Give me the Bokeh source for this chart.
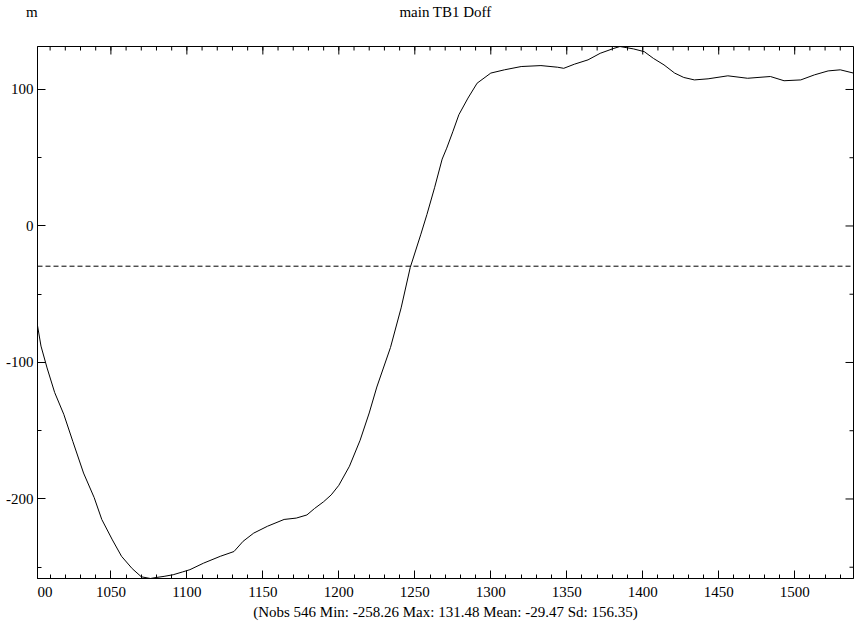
import math
from bokeh.plotting import figure
from bokeh.models import (Range1d, LinearAxis, FixedTicker, Span, PrintfTickFormatter)
from bokeh.embed import file_html
from bokeh.resources import INLINE

# ---- data ----
x_vals = [1001.7, 1004, 1008, 1013, 1019, 1025, 1032, 1039, 1044, 1051, 1057, 1064,
          1070, 1076, 1080, 1085, 1091, 1097, 1102, 1111, 1122, 1131, 1137, 1144,
          1153, 1164, 1172, 1179, 1184, 1190, 1195, 1200, 1207, 1214, 1220, 1225,
          1234, 1241, 1247, 1254, 1258, 1263, 1268, 1271, 1275, 1279, 1285, 1291,
          1300, 1309, 1320, 1333, 1344, 1348, 1355, 1364, 1372, 1381, 1385, 1394,
          1401, 1407, 1414, 1421, 1427, 1434, 1443, 1456, 1469, 1484, 1493, 1504,
          1513, 1522, 1530, 1538.7]
y_vals = [-73, -88, -104, -122, -138, -158, -181, -199, -215, -230, -242, -251,
          -257, -258.26, -257.5, -256.7, -255.5, -253.5, -251.8, -247, -242, -238.5, -231, -225,
          -220, -215, -214, -211.7, -207, -202, -197, -190, -176, -157, -137, -118,
          -89, -60, -30.4, -6, 8.5, 28, 49, 57, 69, 81.5, 93.7, 104.6,
          112, 114.4, 116.8, 117.5, 116.3, 115.5, 118.5, 121.7, 126.5, 130.1, 131.48, 129.7,
          127.7, 122.8, 118, 112, 108.8, 107, 107.8, 110, 108.2, 109.5, 106.4, 107,
          110.7, 113.6, 114.4, 112]

nobs = 546
y_min = -258.26
y_max = 131.48
y_mean = -29.47
y_sd = 156.35
x_start = 1001.7
x_end = 1538.7

x_major_ticks = [1050, 1100, 1150, 1200, 1250, 1300, 1350, 1400, 1450, 1500]
x_minor_ticks = list(range(1010, 1540, 10))
y_major_ticks = [-200, -100, 0, 100]
y_minor_ticks = [-250, -150, -50, 50]

title_text = "main TB1 Doff"
unit_text = "m"
clipped_tick_text = "00"
stats_text = "(Nobs %d Min: %.2f Max: %.2f Mean: %.2f Sd: %.2f)" % (nobs, y_min, y_max, y_mean, y_sd)

FONT = "Liberation Serif"
FS = "15px"
NBSP = "\u00a0"

p = figure(width=854, height=629, output_backend="svg", toolbar_location=None,
           x_range=Range1d(x_start, x_end), y_range=Range1d(y_min, y_max),
           x_axis_location=None, y_axis_location=None,
           min_border_left=37, min_border_right=1, min_border_top=46, min_border_bottom=51)
p.grid.visible = False
p.outline_line_color = "black"
p.outline_line_width = 1
p.background_fill_color = "white"
p.border_fill_color = "white"


def style_axis(ax, tick_in=8, minor_in=4, standoff=5):
    ax.major_tick_in = tick_in
    ax.major_tick_out = 0
    ax.minor_tick_in = minor_in
    ax.minor_tick_out = 0
    ax.axis_line_color = "black"
    ax.major_tick_line_color = "black"
    ax.minor_tick_line_color = "black"
    ax.major_label_text_font = FONT
    ax.major_label_text_font_size = FS
    ax.major_label_text_color = "black"
    ax.major_label_standoff = standoff
    return ax


# bottom axis: numeric labels + clipped "00" at the left edge + statistics line
tick_left = x_start + 0.05
xb = LinearAxis(ticker=FixedTicker(ticks=[tick_left] + x_major_ticks, minor_ticks=x_minor_ticks),
                formatter=PrintfTickFormatter(format="%d"))
style_axis(xb, standoff=5)
xb.major_label_overrides = {tick_left: NBSP * 4 + clipped_tick_text}
xb.axis_label = stats_text
xb.axis_label_text_font = FONT
xb.axis_label_text_font_size = FS
xb.axis_label_text_font_style = "normal"
xb.axis_label_text_color = "black"
xb.axis_label_standoff = 1
p.add_layout(xb, "below")

# left axis
yl = LinearAxis(ticker=FixedTicker(ticks=y_major_ticks, minor_ticks=y_minor_ticks),
                formatter=PrintfTickFormatter(format="%d"))
style_axis(yl, standoff=4)
p.add_layout(yl, "left")

# top text line: unit label "m" and the title, as labels of a tick-less axis
tick_center = (x_start + x_end) / 2
xt = LinearAxis(ticker=FixedTicker(ticks=[tick_left, tick_center], minor_ticks=[]))
style_axis(xt, tick_in=0, minor_in=0, standoff=27)
xt.axis_line_color = None
xt.major_tick_line_color = None
xt.minor_tick_line_color = None
xt.major_label_overrides = {tick_left: unit_text + NBSP * 3, tick_center: title_text}
p.add_layout(xt, "above")

# mirrored tick marks on the top and right frame edges
p.scatter(x=x_major_ticks, y=[y_max] * len(x_major_ticks), marker="dash", size=16,
          angle=math.pi / 2, line_color="black", line_width=1)
p.scatter(x=x_minor_ticks, y=[y_max] * len(x_minor_ticks), marker="dash", size=8,
          angle=math.pi / 2, line_color="black", line_width=1)
p.scatter(x=[x_end] * len(y_major_ticks), y=y_major_ticks, marker="dash", size=16,
          angle=0, line_color="black", line_width=1)
p.scatter(x=[x_end] * len(y_minor_ticks), y=y_minor_ticks, marker="dash", size=8,
          angle=0, line_color="black", line_width=1)

# data line and mean line
p.line(x_vals, y_vals, line_color="black", line_width=1)
p.add_layout(Span(location=y_mean, dimension="width", line_color="black",
                  line_width=1, line_dash="5 3"))

open("out.html", "w").write(file_html(p, INLINE))
